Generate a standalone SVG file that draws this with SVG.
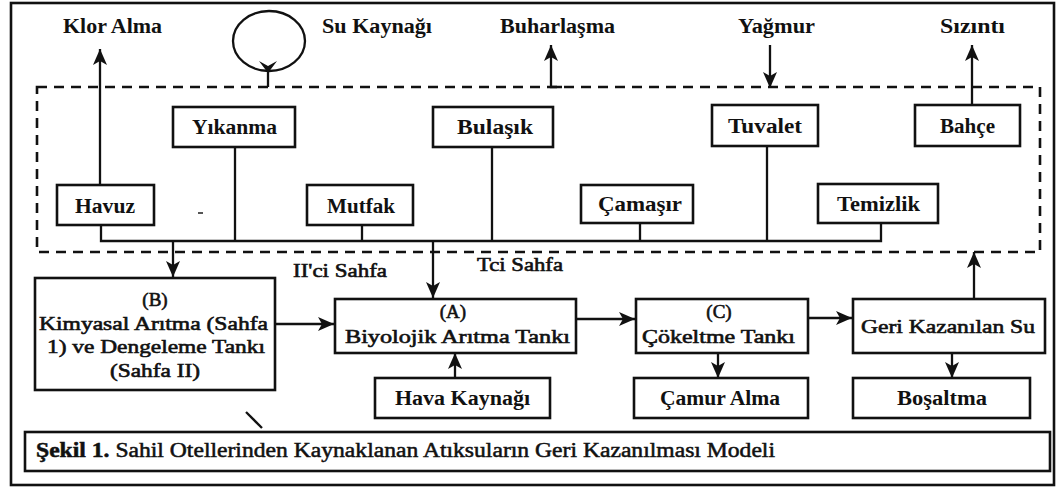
<svg xmlns="http://www.w3.org/2000/svg" width="1057" height="488" viewBox="0 0 1057 488">
<defs>
<marker id="ah" markerUnits="userSpaceOnUse" markerWidth="18" markerHeight="14" refX="16" refY="7" orient="auto">
<path d="M0,0 L16,7 L0,14 L4,7 Z" fill="#111"/>
</marker>
<style>
.frame{fill:none;stroke:#111;stroke-width:2.6}
.box{fill:#fff;stroke:#111;stroke-width:2.6}
.dash{fill:none;stroke:#111;stroke-width:2.6;stroke-dasharray:10 7}
.ln{fill:none;stroke:#111;stroke-width:2.3}
.ar{fill:none;stroke:#111;stroke-width:2.3;marker-end:url(#ah)}
text{font-family:"Liberation Serif","Times New Roman",serif;fill:#111}
.b{font-weight:bold;font-size:20px}
.r{font-size:19px;stroke:#111;stroke-width:0.6}
.m{text-anchor:middle}
</style>
</defs>
<rect width="1057" height="488" fill="#fff"/>
<rect class="frame" x="11" y="3" width="1043" height="482"/>
<rect class="dash" x="37" y="87" width="1003" height="165"/>

<g id="top-labels">
<text class="b" x="63" y="33" textLength="99" lengthAdjust="spacingAndGlyphs">Klor Alma</text>
<text class="b" x="322" y="33" textLength="110" lengthAdjust="spacingAndGlyphs">Su Kaynağı</text>
<text class="b" x="500" y="33" textLength="115" lengthAdjust="spacingAndGlyphs">Buharlaşma</text>
<text class="b" x="738" y="33" textLength="77" lengthAdjust="spacingAndGlyphs">Yağmur</text>
<text class="b" x="940" y="33" textLength="65" lengthAdjust="spacingAndGlyphs">Sızıntı</text>
</g>

<g id="connectors">
<ellipse class="ln" cx="269" cy="41" rx="36" ry="30"/>
<path d="M259,61 L268,73 L277,61 L268,66 Z" fill="#111"/>
<line class="ln" x1="268" y1="71" x2="268" y2="87"/>
<line class="ar" x1="100" y1="185" x2="100" y2="49"/>
<path class="ar" d="M562,87 L551,87 L551,45"/>
<line class="ar" x1="770" y1="45" x2="770" y2="88"/>
<line class="ar" x1="972" y1="105" x2="972" y2="45"/>
<path class="ln" d="M101,225 V241 H881 V223"/>
<line class="ln" x1="235" y1="147" x2="235" y2="241"/>
<line class="ln" x1="362" y1="225" x2="362" y2="241"/>
<line class="ln" x1="492" y1="147" x2="492" y2="241"/>
<line class="ln" x1="640" y1="223" x2="640" y2="241"/>
<line class="ln" x1="767" y1="146" x2="767" y2="241"/>
<line class="ar" x1="173" y1="241" x2="173" y2="277"/>
<line class="ar" x1="433" y1="241" x2="433" y2="298"/>
<line class="ar" x1="276" y1="324" x2="334" y2="324"/>
<line class="ar" x1="577" y1="319" x2="635" y2="319"/>
<line class="ar" x1="809" y1="318" x2="852" y2="318"/>
<line class="ar" x1="974" y1="299" x2="974" y2="252"/>
<line class="ar" x1="455" y1="378" x2="455" y2="353"/>
<line class="ar" x1="718" y1="353" x2="718" y2="378"/>
<line class="ar" x1="952" y1="353" x2="952" y2="378"/>
</g>

<g id="yikanma"><rect class="box" x="173" y="107" width="122" height="40"/><text class="b" x="192" y="134" textLength="85" lengthAdjust="spacingAndGlyphs">Yıkanma</text></g>
<g id="bulasik"><rect class="box" x="433" y="107" width="120" height="40"/><text class="b" x="457" y="134" textLength="76" lengthAdjust="spacingAndGlyphs">Bulaşık</text></g>
<g id="tuvalet"><rect class="box" x="712" y="105" width="106" height="41"/><text class="b" x="728" y="133" textLength="74" lengthAdjust="spacingAndGlyphs">Tuvalet</text></g>
<g id="bahce"><rect class="box" x="915" y="105" width="105" height="41"/><text class="b" x="940" y="133" textLength="55" lengthAdjust="spacingAndGlyphs">Bahçe</text></g>
<g id="havuz"><rect class="box" x="57" y="185" width="97" height="40"/><text class="b" x="75" y="213" textLength="60" lengthAdjust="spacingAndGlyphs">Havuz</text></g>
<g id="mutfak"><rect class="box" x="307" y="185" width="106" height="40"/><text class="b" x="327" y="213" textLength="68" lengthAdjust="spacingAndGlyphs">Mutfak</text></g>
<g id="camasir"><rect class="box" x="581" y="185" width="112" height="38"/><text class="b" x="598" y="211" textLength="84" lengthAdjust="spacingAndGlyphs">Çamaşır</text></g>
<g id="temizlik"><rect class="box" x="818" y="184" width="120" height="39"/><text class="b" x="837" y="211" textLength="83" lengthAdjust="spacingAndGlyphs">Temizlik</text></g>

<g id="phase-labels">
<text class="r" x="293" y="277" textLength="94" lengthAdjust="spacingAndGlyphs">II'ci Sahfa</text>
<text class="r" x="477" y="271" textLength="86" lengthAdjust="spacingAndGlyphs">Tci Sahfa</text>
</g>

<g id="tank-b"><rect class="box" x="35" y="278" width="240" height="112"/>
<text class="r m" x="155" y="306">(B)</text>
<text class="r" x="39" y="330" textLength="229" lengthAdjust="spacingAndGlyphs">Kimyasal Arıtma (Sahfa</text>
<text class="r" x="47" y="353" textLength="218" lengthAdjust="spacingAndGlyphs">1) ve Dengeleme Tankı</text>
<text class="r" x="110" y="377" textLength="90" lengthAdjust="spacingAndGlyphs">(Sahfa II)</text>
</g>
<g id="tank-a"><rect class="box" x="335" y="299" width="241" height="54"/>
<text class="r m" x="453" y="318">(A)</text>
<text class="r" x="345" y="343" textLength="225" lengthAdjust="spacingAndGlyphs">Biyolojik Arıtma Tankı</text>
</g>
<g id="tank-c"><rect class="box" x="636" y="299" width="172" height="54"/>
<text class="r m" x="719" y="318">(C)</text>
<text class="r" x="642" y="343" textLength="153" lengthAdjust="spacingAndGlyphs">Çökeltme Tankı</text>
</g>
<g id="geri"><rect class="box" x="853" y="299" width="192" height="54"/>
<text class="r" x="861" y="333" textLength="174" lengthAdjust="spacingAndGlyphs">Geri Kazanılan Su</text>
</g>
<g id="hava"><rect class="box" x="375" y="378" width="175" height="40"/>
<text class="b" x="395" y="405" textLength="135" lengthAdjust="spacingAndGlyphs">Hava Kaynağı</text>
</g>
<g id="camur"><rect class="box" x="634" y="378" width="174" height="40"/>
<text class="b" x="660" y="405" textLength="120" lengthAdjust="spacingAndGlyphs">Çamur Alma</text>
</g>
<g id="bosaltma"><rect class="box" x="853" y="378" width="177" height="40"/>
<text class="b" x="897" y="405" textLength="90" lengthAdjust="spacingAndGlyphs">Boşaltma</text>
</g>

<g id="caption"><rect class="box" x="25" y="432" width="1025" height="39"/>
<text x="36" y="457" font-size="20" stroke="#111" stroke-width="0.5" textLength="739" lengthAdjust="spacingAndGlyphs"><tspan font-weight="bold">Şekil 1.</tspan> Sahil Otellerinden Kaynaklanan Atıksuların Geri Kazanılması Modeli</text>
</g>

<line class="ln" x1="246" y1="412" x2="262" y2="428"/>
<line x1="198" y1="213" x2="203" y2="213" stroke="#555" stroke-width="2"/>
</svg>
